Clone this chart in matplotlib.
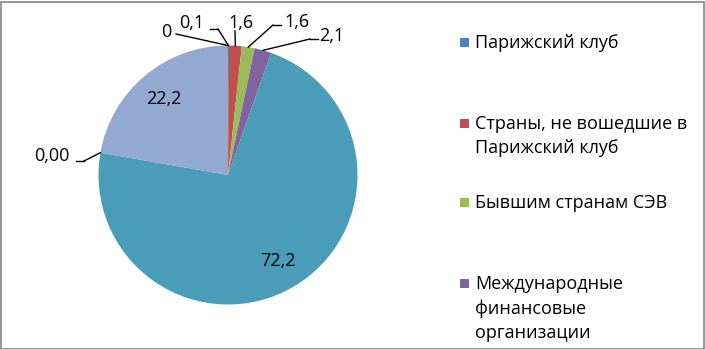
"""Pie chart of debt structure (Excel-style) with outside leader labels."""

import numpy as np
import matplotlib
matplotlib.use("Agg")
import matplotlib.pyplot as plt
from matplotlib.patches import Rectangle

# ---- data -------------------------------------------------------------
values = [0, 0.1, 1.6, 1.6, 2.1, 72.2, 0.0, 22.2]
value_labels = ["0", "0,1", "1,6", "1,6", "2,1", "72,2", "0,00", "22,2"]
slice_colors = ["#4F81BD", "#2C4D75", "#C0504D", "#9BBB59", "#8064A2",
                "#4A9DB9", "#F79646", "#93A9D1"]
legend_names = [
    "Парижский клуб",
    "Страны, не вошедшие в\nПарижский клуб",
    "Бывшим странам СЭВ",
    "Международные\nфинансовые\nорганизации",
]
legend_colors = ["#4F81BD", "#C0504D", "#9BBB59", "#8064A2"]

# ---- layout (pixels, y measured from top) -------------------------------
W, H = 705, 349
CX, CY, R = 228, 175, 129.5
# outside labels: index -> (text x, text y, elbow x, elbow y)
outside = {
    0: (166, 32, 176, 34),
    1: (192, 23, 218, 29),
    2: (241, 23, 235, 31),
    3: (297, 22, 273, 25),
    4: (332, 36, 310, 39),
    6: (52, 156, 84, 161),
}
inside_frac = 0.77
FONT = "Open Sans"
FS = 13


def main() -> None:
    fig = plt.figure(figsize=(W / 100, H / 100), dpi=100, facecolor="white")
    ax = fig.add_axes([0, 0, 1, 1])

    ax.pie(
        values,
        colors=slice_colors,
        startangle=90,
        counterclock=False,
        center=(CX, H - CY),
        radius=R,
        wedgeprops=dict(linewidth=0),
    )
    ax.set_xlim(0, W)
    ax.set_ylim(0, H)
    ax.set_aspect("auto")
    ax.axis("off")

    total = sum(values)
    cum = np.cumsum([0] + values)
    for i, lab in enumerate(value_labels):
        mid = (cum[i] + values[i] / 2) / total * 2 * np.pi  # clockwise from top
        if i in outside:
            tx, ty, ex, ey = outside[i]
            px = CX + R * np.sin(mid)
            py = CY - R * np.cos(mid)
            ax.plot([ex, px], [H - ey, H - py], color="black", lw=1)
            # short horizontal piece next to the text
            if i in (1, 3, 4, 6):
                hx = ex + (8 if ex < tx else -8)
                ax.plot([hx, ex], [H - ey, H - ey], color="black", lw=1)
            ax.text(tx, H - ty, lab, ha="center", va="center",
                    fontsize=FS, family=FONT, color="black")
        else:
            px = CX + inside_frac * R * np.sin(mid)
            py = CY - inside_frac * R * np.cos(mid)
            ax.text(px, H - py, lab, ha="center", va="center",
                    fontsize=FS, family=FONT, color="black")

    # legend drawn by hand (Excel spreads entries over the height)
    leg_y = [42, 123, 202, 283]
    for name, col, y in zip(legend_names, legend_colors, leg_y):
        ax.add_patch(Rectangle((460, H - y - 4.5), 9, 9, color=col, lw=0))
        ax.text(475, H - y + 8, name, ha="left", va="top", fontsize=FS,
                family=FONT, color="black", linespacing=1.45)

    # chart border
    fig.patches.append(Rectangle((0.5 / W, 0.5 / H), 1 - 2 / W, 1 - 2 / H,
                                 transform=fig.transFigure, fill=False,
                                 edgecolor="#868686", lw=1.2))

    fig.savefig("out.png", dpi=100, facecolor="white")
    plt.close(fig)


if __name__ == "__main__":
    main()
